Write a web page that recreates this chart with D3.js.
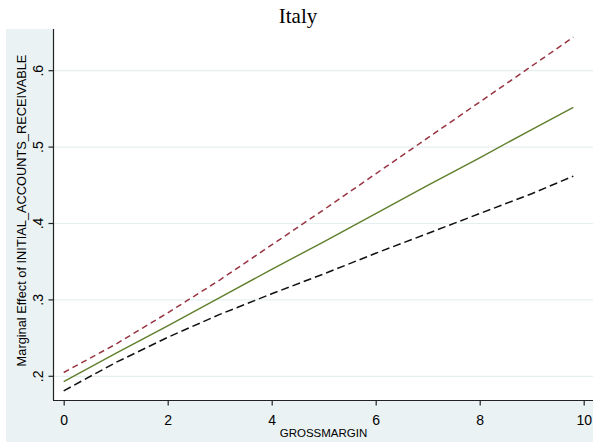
<!DOCTYPE html>
<html>
<head>
<meta charset="utf-8">
<script src="https://cdn.jsdelivr.net/npm/d3@7"></script>
<style>
  body { margin: 0; background: #fff; }
</style>
</head>
<body>
<div id="chart"></div>
<script>
var width = 593, height = 445

// values
const grossMargin = [0, 1, 2, 3, 4, 5, 6, 7, 8, 9, 9.8]
const effect = [0.193, 0.230, 0.266, 0.303, 0.340, 0.376, 0.413, 0.450, 0.486, 0.523, 0.552]
const upper = [0.205, 0.242, 0.283, 0.326, 0.372, 0.418, 0.465, 0.512, 0.559, 0.606, 0.644]
const lower = [0.181, 0.218, 0.251, 0.281, 0.308, 0.334, 0.361, 0.387, 0.413, 0.439, 0.462]
const xTicks = [0, 2, 4, 6, 8, 10]
const yTicks = [0.2, 0.3, 0.4, 0.5, 0.6]

const svg = d3.select('#chart')
	.append('svg')
	.attr('width', width)
	.attr('height', height)
	.style('display', 'block')

// outer stata-ish background
svg.append('rect')
	.attr('x', 6).attr('y', 29)
	.attr('width', width - 6).attr('height', 413)
	.attr('fill', '#eaf2f3')

const plot = {left: 54, top: 29, right: 593, bottom: 400}

svg.append('rect')
	.attr('x', plot.left).attr('y', plot.top)
	.attr('width', plot.right - plot.left).attr('height', plot.bottom - plot.top)
	.attr('fill', '#fff')

var x = d3.scaleLinear().domain([0, 10]).range([63.7, 583.7])
var y = d3.scaleLinear().domain([0.2, 0.6]).range([376.3, 70.7])

// gridlines
svg.append('g')
	.selectAll('line')
	.data(yTicks)
	.join('line')
	.attr('x1', plot.left).attr('x2', plot.right)
	.attr('y1', d => y(d)).attr('y2', d => y(d))
	.attr('stroke', '#e6eff0')
	.attr('stroke-width', 1.2)

// axes
const yAxis = svg.append('g')
	.attr('transform', `translate(${plot.left - 0.5},0)`)
	.call(d3.axisLeft(y).tickValues(yTicks).tickSize(5).tickSizeOuter(0)
		.tickFormat(d => d3.format('.1f')(d).replace(/^0/, '')))
yAxis.select('.domain').attr('d', `M0,${plot.top}V${plot.bottom}`)
yAxis.selectAll('text')
	.attr('transform', function(d) { return `translate(-10.5,${y(d)}) rotate(-90)` })
	.attr('x', 0).attr('y', 0).attr('dy', 0)
	.attr('text-anchor', 'middle')
	.style('font', '14px Arial, "Liberation Sans", sans-serif')
	.attr('fill', '#000')
yAxis.selectAll('.tick').attr('transform', d => `translate(0,0)`)
yAxis.selectAll('.tick line').attr('y1', d => y(d)).attr('y2', d => y(d))

const xAxis = svg.append('g')
	.attr('transform', `translate(0,${plot.bottom + 0.5})`)
	.call(d3.axisBottom(x).tickValues(xTicks).tickSize(5).tickSizeOuter(0).tickFormat(d3.format('d')))
xAxis.select('.domain').attr('d', `M${plot.left - 1},0H${plot.right}`)
xAxis.selectAll('text')
	.attr('y', 24).attr('dy', 0)
	.style('font', '14px Arial, "Liberation Sans", sans-serif')
	.attr('fill', '#000')

svg.selectAll('.domain, .tick line').attr('stroke', '#222').attr('stroke-width', 1.2)

// titles
svg.append('text')
	.attr('x', (plot.left + plot.right) / 2).attr('y', 437)
	.attr('text-anchor', 'middle')
	.style('font', '11.5px Arial, "Liberation Sans", sans-serif')
	.text('GROSSMARGIN')

svg.append('text')
	.attr('transform', `translate(25.5,${(plot.top + plot.bottom) / 2 - 4}) rotate(-90)`)
	.attr('text-anchor', 'middle')
	.style('font', '12.8px Arial, "Liberation Sans", sans-serif')
	.text('Marginal Effect of INITIAL_ACCOUNTS_RECEIVABLE')

svg.append('text')
	.attr('x', 298).attr('y', 23)
	.attr('text-anchor', 'middle')
	.style('font', '21px "Liberation Serif", "Times New Roman", serif')
	.text('Italy')

// lines
const line = vals => d3.line()
	.x((d, i) => x(grossMargin[i]))
	.y(d => y(d))(vals)

svg.append('path')
	.attr('d', line(upper))
	.attr('fill', 'none')
	.attr('stroke', '#983441')
	.attr('stroke-width', 1.5)
	.attr('stroke-dasharray', '6,4')

svg.append('path')
	.attr('d', line(lower))
	.attr('fill', 'none')
	.attr('stroke', '#111')
	.attr('stroke-width', 1.5)
	.attr('stroke-dasharray', '8,4')

svg.append('path')
	.attr('d', line(effect))
	.attr('fill', 'none')
	.attr('stroke', '#5f7f2c')
	.attr('stroke-width', 1.4)
</script>
</body>
</html>
